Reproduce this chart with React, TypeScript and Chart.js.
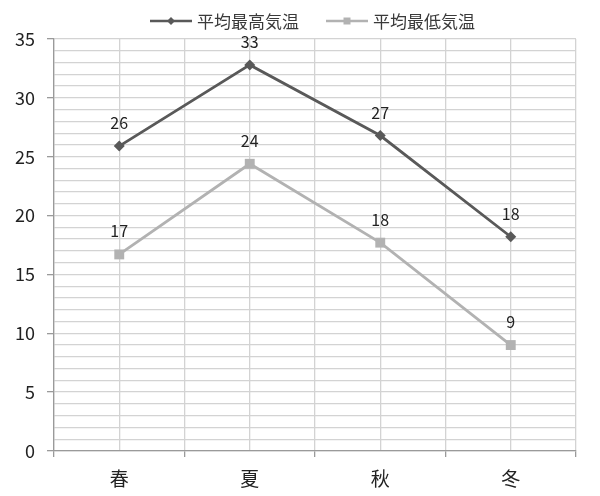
import { useEffect, useRef } from "react";
import { Chart, registerables } from "chart.js";
import type { Plugin } from "chart.js";

Chart.register(...registerables);

const seasons = ["春", "夏", "秋", "冬"];
const highTemps = [25.9, 32.8, 26.8, 18.2];
const lowTemps = [16.7, 24.4, 17.7, 9.0];
const seriesNames = ["平均最高気温", "平均最低気温"];

const FONT = '"Noto Sans CJK JP", "Noto Sans", sans-serif';
const HIGH_COLOR = "#595959";
const LOW_COLOR = "#b2b2b2";
const GRID_COLOR = "#d3d3d3";
const AXIS_COLOR = "#9a9a9a";
const TEXT_COLOR = "#222222";

// numbers above each point
const valueLabels: Plugin<"line"> = {
  id: "valueLabels",
  afterDatasetsDraw(chart) {
    const { ctx } = chart;
    ctx.save();
    ctx.font = `16px ${FONT}`;
    ctx.fillStyle = TEXT_COLOR;
    ctx.textAlign = "center";
    ctx.textBaseline = "middle";
    chart.data.datasets.forEach((ds, i) => {
      chart.getDatasetMeta(i).data.forEach((pt, j) => {
        const v = ds.data[j] as number;
        ctx.fillText(String(Math.round(v)), pt.x, pt.y - 23);
      });
    });
    ctx.restore();
  },
};

// legend with line + marker, like the spreadsheet one
const lineLegend: Plugin<"line"> = {
  id: "lineLegend",
  afterDraw(chart) {
    const { ctx } = chart;
    const lineLen = 42;
    const gap = 5;
    const between = 27;
    const y = 21;
    ctx.save();
    ctx.font = `17px ${FONT}`;
    const widths = seriesNames.map((n) => lineLen + gap + ctx.measureText(n).width);
    let x = 150;
    seriesNames.forEach((name, i) => {
      const color = i === 0 ? HIGH_COLOR : LOW_COLOR;
      ctx.strokeStyle = color;
      ctx.lineWidth = 2.5;
      ctx.beginPath();
      ctx.moveTo(x, y);
      ctx.lineTo(x + lineLen, y);
      ctx.stroke();
      const cx = x + lineLen / 2;
      ctx.fillStyle = color;
      ctx.beginPath();
      if (i === 0) {
        ctx.moveTo(cx, y - 4);
        ctx.lineTo(cx + 4, y);
        ctx.lineTo(cx, y + 4);
        ctx.lineTo(cx - 4, y);
        ctx.closePath();
      } else {
        ctx.rect(cx - 3.5, y - 3.5, 7, 7);
      }
      ctx.fill();
      ctx.fillStyle = "#3a3a3a";
      ctx.textAlign = "left";
      ctx.textBaseline = "middle";
      ctx.fillText(name, x + lineLen + gap, y + 1);
      x += widths[i] + between;
    });
    ctx.restore();
  },
};

export default function App() {
  const canvasRef = useRef<HTMLCanvasElement>(null);
  const chartRef = useRef<Chart | null>(null);

  useEffect(() => {
    if (!canvasRef.current) return;
    const ctx = canvasRef.current.getContext("2d");
    if (!ctx) return;

    if (chartRef.current) chartRef.current.destroy();

    chartRef.current = new Chart(ctx, {
      type: "line",
      data: {
        labels: seasons,
        datasets: [
          {
            label: seriesNames[0],
            data: highTemps,
            borderColor: HIGH_COLOR,
            backgroundColor: HIGH_COLOR,
            borderWidth: 2.8,
            pointStyle: "rectRot",
            pointRadius: 5.5,
            pointBorderWidth: 0,
            tension: 0,
          },
          {
            label: seriesNames[1],
            data: lowTemps,
            borderColor: LOW_COLOR,
            backgroundColor: LOW_COLOR,
            borderWidth: 2.8,
            pointStyle: "rect",
            pointRadius: 7,
            pointBorderWidth: 0,
            tension: 0,
          },
        ],
      },
      options: {
        responsive: true,
        maintainAspectRatio: false,
        animation: false,
        layout: { padding: { top: 39, right: 24, left: 0, bottom: 0 } },
        plugins: {
          legend: { display: false },
          tooltip: { enabled: false },
        },
        scales: {
          x: {
            offset: true,
            grid: {
              offset: true,
              color: GRID_COLOR,
              lineWidth: 1.3,
              tickLength: 6,
              tickColor: AXIS_COLOR,
            },
            border: { color: AXIS_COLOR, width: 1.3 },
            ticks: {
              font: { family: FONT, size: 19 },
              color: TEXT_COLOR,
              padding: 10,
            },
            afterFit: (s) => {
              s.height = 45;
            },
          },
          x2: {
            type: "category",
            position: "bottom",
            offset: true,
            grid: { offset: false, color: GRID_COLOR, lineWidth: 1.3, drawTicks: false },
            border: { display: false },
            ticks: { display: false },
            afterFit: (s) => {
              s.height = 0;
            },
          },
          y: {
            min: 0,
            max: 35,
            ticks: {
              stepSize: 1,
              autoSkip: false,
              callback: (v) => (Number(v) % 5 === 0 ? String(v) : ""),
              font: { family: FONT, size: 18 },
              color: TEXT_COLOR,
              padding: 12,
            },
            grid: {
              color: GRID_COLOR,
              lineWidth: 1.3,
              tickLength: 7,
              tickColor: (c) =>
                c.tick && Number(c.tick.value) % 5 === 0 ? AXIS_COLOR : "rgba(0,0,0,0)",
            },
            border: { color: AXIS_COLOR, width: 1.3 },
            afterFit: (s) => {
              s.width = 54;
            },
          },
        },
      },
      plugins: [valueLabels, lineLegend],
    });

    return () => {
      if (chartRef.current) {
        chartRef.current.destroy();
        chartRef.current = null;
      }
    };
  }, []);

  return (
    <div style={{ position: "fixed", left: 0, top: 0, width: 600, height: 496, background: "#fff" }}>
      <canvas ref={canvasRef} />
    </div>
  );
}
